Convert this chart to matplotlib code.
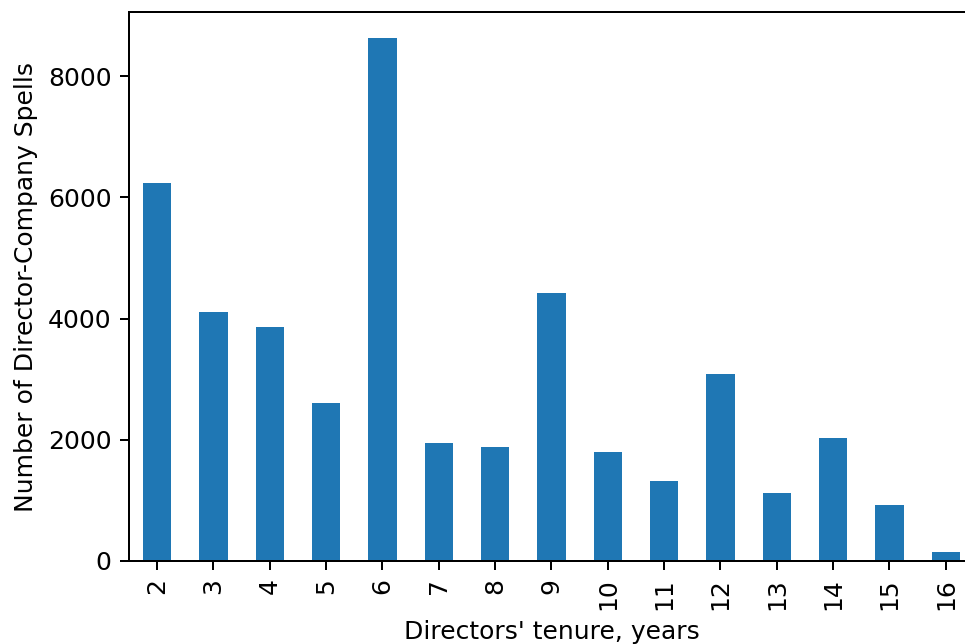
import matplotlib
matplotlib.use('Agg')
import matplotlib.pyplot as plt
import pandas as pd

# spells per tenure length
tenure_years = [2, 3, 4, 5, 6, 7, 8, 9, 10, 11, 12, 13, 14, 15, 16]
spell_counts = [6235, 4107, 3860, 2606, 8627, 1946, 1880, 4421,
                1798, 1320, 3085, 1122, 2029, 924, 148]

spells = pd.Series(spell_counts, index=tenure_years)

DPI = 180
fig = plt.figure(figsize=(966 / DPI, 644 / DPI), dpi=DPI)
ax = fig.add_axes([129 / 966, 83 / 644, 845 / 966, 549 / 644])

spells.plot.bar(ax=ax, color='#1f77b4')
ax.set_xlabel("Directors' tenure, years")
ax.set_ylabel("Number of Director-Company Spells")

fig.savefig('out.png', dpi=DPI)
plt.close(fig)
